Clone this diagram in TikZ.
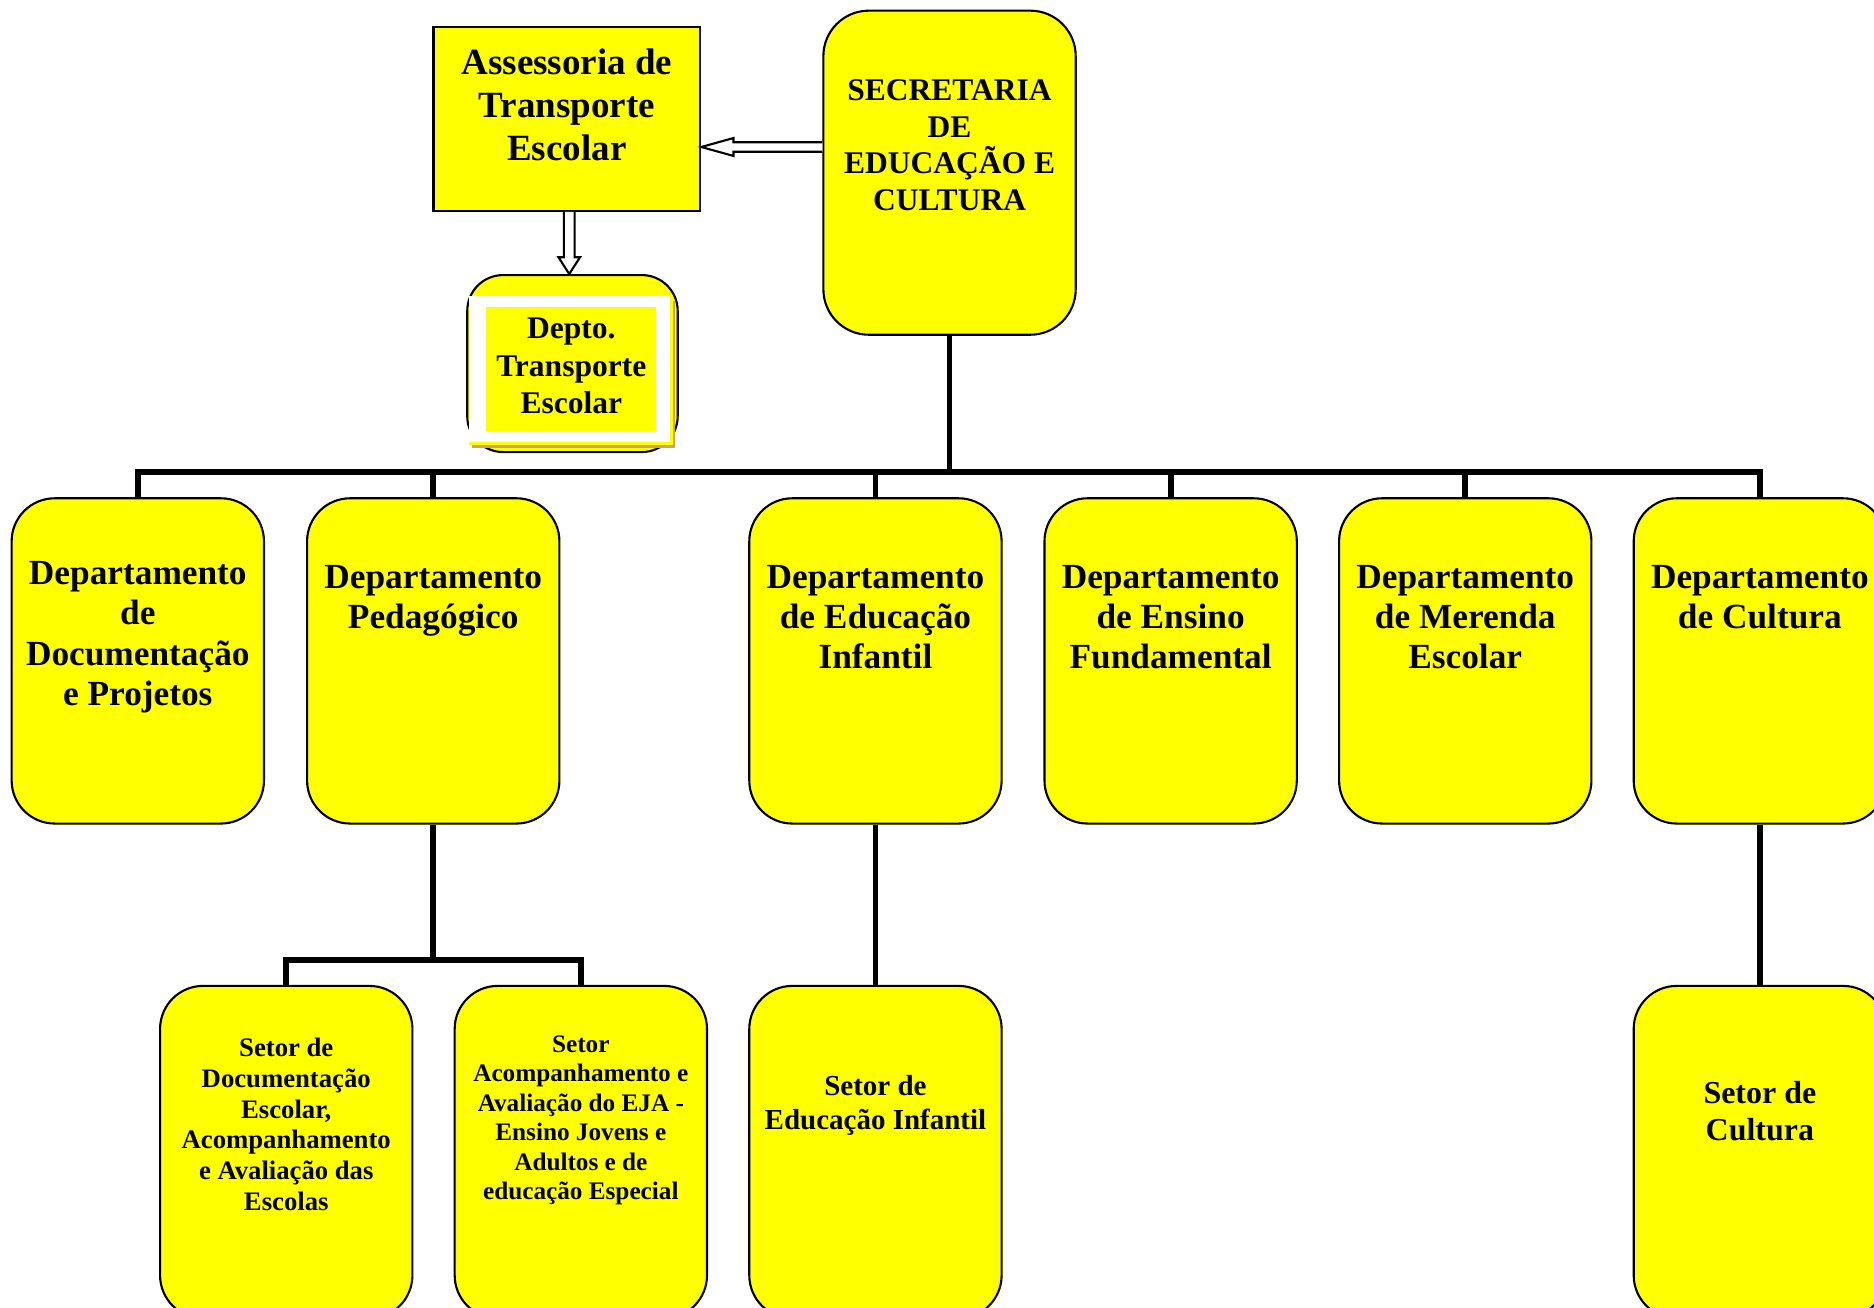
\documentclass[tikz,border=0pt]{standalone}
\usepackage{fontspec}
\setmainfont{Liberation Serif}
\usetikzlibrary{positioning, calc}
\definecolor{shadowtan}{RGB}{205,160,115}
\definecolor{boxyellow}{RGB}{255,255,0}

\begin{document}
\begin{tikzpicture}[x=0.01cm, y=-0.01cm,
    unit/.style={draw, fill=boxyellow, line width=0.5pt, rounded corners=0.36cm,
      minimum width=2.11cm, minimum height=2.72cm, inner sep=0pt},
    unittext/.style={anchor=north, align=center, inner sep=0pt,
      font=\bfseries\fontsize{8.4}{9.6}\selectfont},
    link/.style={line width=1.4pt},
    hollow/.style={draw, fill=white, line width=0.5pt}]
    \clip (0,0) rectangle (1568,1094);

    % Secretaria and Assessoria
    \node[unit, minimum height=2.71cm, rounded corners=0.38cm] (sec) at (794.5,144.5) {};
    \node[unittext, font=\bfseries\fontsize{7.5}{8.7}\selectfont] (sec-t) at (794.5,66) {SECRETARIA\\DE\\EDUCAÇÃO E\\CULTURA};
    \node[unit, sharp corners, minimum width=2.23cm, minimum height=1.534cm] (ass) at (474.3,99.6) {};
    \node[unittext, font=\bfseries\fontsize{8.8}{10.2}\selectfont] (ass-t) at (474.3,40) {Assessoria de\\Transporte\\Escolar};

    % Depto. Transporte Escolar
    \node[unit, minimum width=1.76cm, minimum height=1.48cm, rounded corners=0.3cm] (dts) at (479,304.2) {};
    \fill[shadowtan] (395,252) rectangle (565,375);
    \fill[white] (392,248) rectangle (562,371);
    \draw[boxyellow, line width=0.6pt] (562,248) -- (562,371) -- (392,371);
    \fill[boxyellow] (407,257) rectangle (549,361);
    \node[unittext, font=\bfseries\fontsize{7.5}{9}\selectfont] (dts-t) at (478,265) {Depto.\\Transporte\\Escolar};

    % Departamentos
    \node[unit] (doc) at (115.3,553) {};
    \node[unit] (ped) at (362.5,553) {};
    \node[unit] (inf) at (732.5,553) {};
    \node[unit] (ens) at (979.5,553) {};
    \node[unit] (mer) at (1226,553) {};
    \node[unit] (cul) at (1472.5,553) {};
    \node[unittext] (doc-t) at (115.3,469) {Departamento\\de\\Documentação\\e Projetos};
    \node[unittext] (ped-t) at (362.5,472) {Departamento\\Pedagógico};
    \node[unittext] (inf-t) at (732.5,472) {Departamento\\de Educação\\Infantil};
    \node[unittext] (ens-t) at (979.5,472) {Departamento\\de Ensino\\Fundamental};
    \node[unittext] (mer-t) at (1226,472) {Departamento\\de Merenda\\Escolar};
    \node[unittext] (cul-t) at (1472.5,472) {Departamento\\de Cultura};

    % Setores
    \node[unit, minimum height=2.78cm] (sdoc) at (239.5,964) {};
    \node[unit, minimum height=2.78cm] (seja) at (486,964) {};
    \node[unit, minimum height=2.78cm] (sinf) at (732.5,964) {};
    \node[unit, minimum height=2.78cm] (scul) at (1472.5,964) {};
    \node[unittext, font=\bfseries\fontsize{6.35}{7.3}\selectfont] (sdoc-t) at (239.5,868) {Setor de\\Documentação\\Escolar,\\Acompanhamento\\e Avaliação das\\Escolas};
    \node[unittext, font=\bfseries\fontsize{6}{7}\selectfont] (seja-t) at (486,866) {Setor\\Acompanhamento e\\Avaliação do EJA -\\Ensino Jovens e\\Adultos e de\\educação Especial};
    \node[unittext, font=\bfseries\fontsize{6.9}{8.2}\selectfont] (sinf-t) at (732.5,899) {Setor de\\Educação Infantil};
    \node[unittext, font=\bfseries\fontsize{7.6}{8.8}\selectfont] (scul-t) at (1472.5,904) {Setor de\\Cultura};

    % Links
    \coordinate (bus) at (794.5,396);
    \draw[link] (sec.south) -- (bus);
    \draw[link] (doc.north) -- ++(0,-21) -| (cul.north);
    \draw[link] (ped.north) -- ++(0,-21);
    \draw[link] (inf.north) -- ++(0,-21);
    \draw[link] (ens.north) -- ++(0,-21);
    \draw[link] (mer.north) -- ++(0,-21);
    \draw[link] (ped.south) -- ++(0,115);
    \draw[link] (sdoc.north) -- ++(0,-21) -| (seja.north);
    \draw[link] (inf.south) -- (sinf.north);
    \draw[link] (cul.south) -- (scul.north);

    % Hollow arrows
    \coordinate (a1) at (sec.west |- 0,123);
    \draw[hollow] ($(a1)+(0,-4)$) -| ($(ass.east |- a1)+(27,-7.5)$) -- (ass.east |- a1) -- ++(27,7.5) |- ($(a1)+(0,4)$);
    \coordinate (a2) at ([xshift=0.02cm]ass.south);
    \draw[hollow] ($(a2)+(-4.5,0)$) |- ($(a2 |- dts.north)+(-9,-14)$) -- (a2 |- dts.north) -- ++(9,-14) -| ($(a2)+(4.5,0)$);
\end{tikzpicture}
\end{document}
